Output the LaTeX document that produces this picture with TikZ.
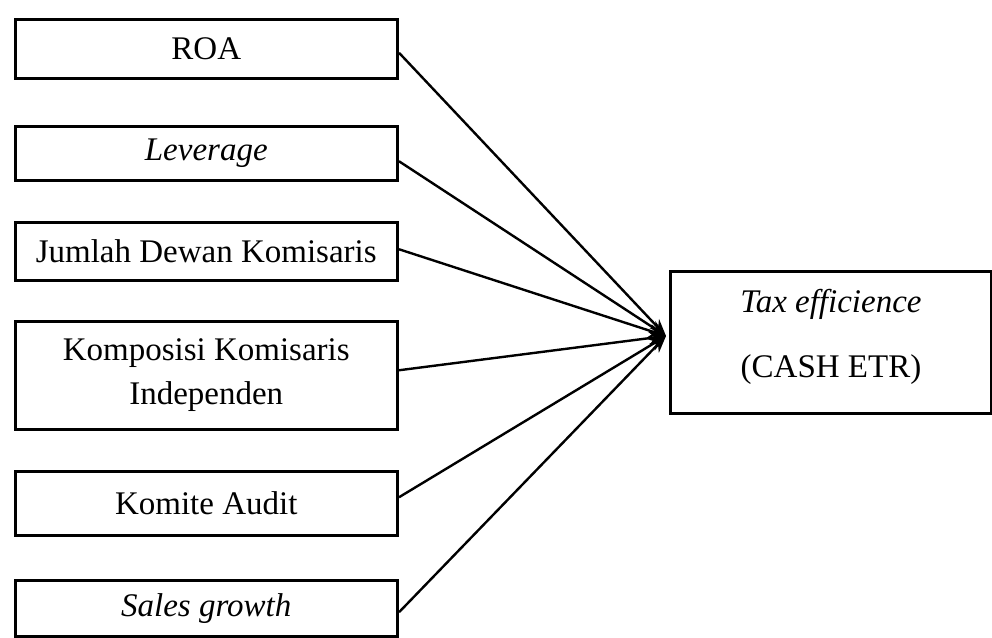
\documentclass[tikz,border=0pt]{standalone}
\usepackage{fontspec}
\setmainfont{Liberation Serif}
\usetikzlibrary{arrows.meta}
\begin{document}
\begin{tikzpicture}[x=1pt,y=-1pt,
  box/.style={draw, line width=3.5pt, rectangle, anchor=north west, inner sep=0pt,
    minimum width=382pt, align=center, font=\fontsize{33}{44}\selectfont},
  conn/.style={line width=2.4pt, -{Stealth[length=17pt,width=13pt]}}]
\useasboundingbox (0,0) rectangle (992,637);
\node[box, minimum height=59pt]  (roa) at (13.5,17.5) {ROA};
\node[box, minimum height=54pt]  (lev) at (13.5,124.5) {\textit{Leverage}};
\node[box, minimum height=58pt]  (jdk) at (13.5,220.5) {Jumlah Dewan Komisaris};
\node[box, minimum height=108pt] (kki) at (13.5,319.5) {Komposisi Komisaris\\Independen};
\node[box, minimum height=64pt]  (ka)  at (13.5,469.5) {Komite Audit};
\node[box, minimum height=56pt]  (sg)  at (13.5,578.5) {\textit{Sales growth}};
\node[box, minimum width=321.5pt, minimum height=142pt, text depth=17pt] (te) at (668.5,269.5)
  {\textit{Tax efficience}\\[21pt](CASH ETR)};
\coordinate (tip) at (666,336);
\draw[conn] ([yshift=-4pt]roa.east) -- (tip);
\draw[conn] ([yshift=-8pt]lev.east) -- (tip);
\draw[conn] ([yshift=2pt]jdk.east) -- (tip);
\draw[conn] ([yshift=5pt]kki.east) -- (tip);
\draw[conn] ([yshift=6pt]ka.east) -- (tip);
\draw[conn] ([yshift=-4pt]sg.east) -- (tip);
\end{tikzpicture}
\end{document}
